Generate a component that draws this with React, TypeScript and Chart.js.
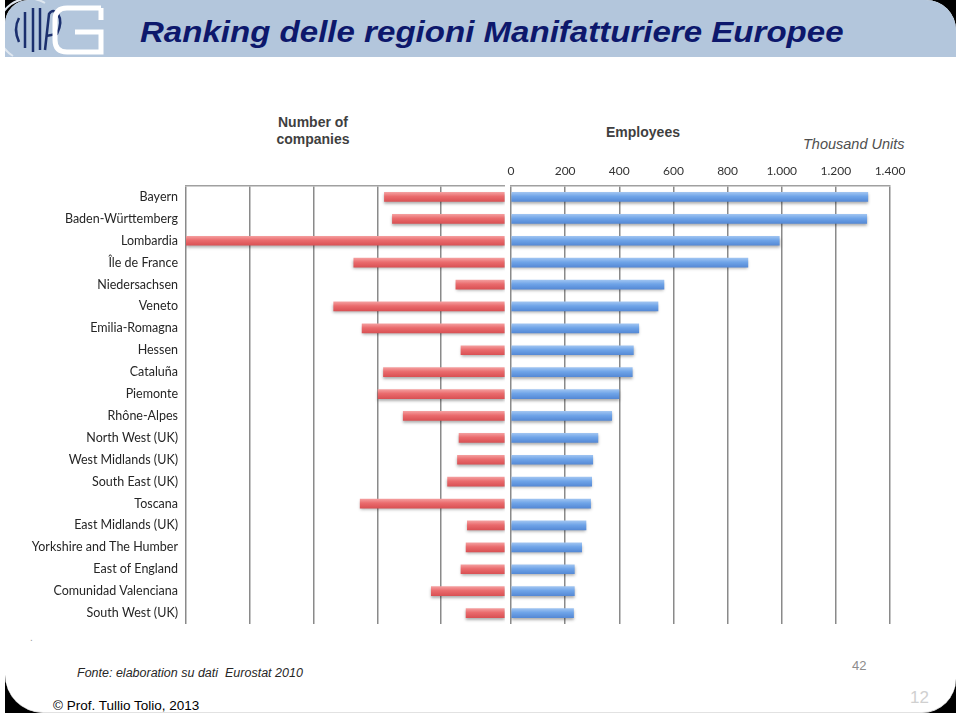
import React, { useEffect, useRef } from "react";
import { Chart, registerables } from "chart.js";

Chart.register(...registerables);

const regions = [
  "Bayern",
  "Baden-Württemberg",
  "Lombardia",
  "Île de France",
  "Niedersachsen",
  "Veneto",
  "Emilia-Romagna",
  "Hessen",
  "Cataluña",
  "Piemonte",
  "Rhône-Alpes",
  "North West (UK)",
  "West Midlands (UK)",
  "South East (UK)",
  "Toscana",
  "East Midlands (UK)",
  "Yorkshire and The Humber",
  "East of England",
  "Comunidad Valenciana",
  "South West (UK)",
];

const companies = [
  37800, 35300, 100000, 47400, 15400, 53700, 44800, 13800, 38100, 39800,
  31900, 14400, 14900, 18000, 45400, 11800, 12200, 13800, 23100, 12200,
];

const employees = [
  1318, 1314, 991, 875, 565, 543, 472, 452, 448, 399, 372, 321, 302, 298, 294,
  277, 261, 234, 234, 231,
];

const companiesMax = 100000;
const companiesStep = 20000;
const employeesMax = 1400;
const employeesStep = 200;

const LABEL_FONT = "Lato, 'Open Sans', sans-serif";

const shadowPlugin = {
  id: "barShadow",
  beforeDatasetsDraw(chart: any) {
    const ctx = chart.ctx;
    ctx.save();
    ctx.shadowColor = "rgba(0,0,0,0.32)";
    ctx.shadowBlur = 3;
    ctx.shadowOffsetX = 0;
    ctx.shadowOffsetY = 2;
  },
  afterDatasetsDraw(chart: any) {
    chart.ctx.restore();
  },
};

function barGradient(stops: string[]) {
  return (context: any) => {
    const chart = context.chart;
    if (!chart.chartArea || context.type !== "data") return stops[1];
    const yScale = chart.scales.y;
    if (!yScale) return stops[1];
    const yc = yScale.getPixelForValue(context.dataIndex);
    const g = chart.ctx.createLinearGradient(0, yc - 5, 0, yc + 5);
    g.addColorStop(0, stops[0]);
    g.addColorStop(0.45, stops[1]);
    g.addColorStop(1, stops[2]);
    return g;
  };
}

const gridGray = "#8a8a8a";

function formatThousands(v: number) {
  return String(v).replace(/\B(?=(\d{3})+(?!\d))/g, ".");
}

function noPad(s: any) {
  s.paddingLeft = 0;
  s.paddingRight = 0;
  s.paddingTop = 0;
  s.paddingBottom = 0;
}

function LeftChart() {
  const ref = useRef<HTMLCanvasElement>(null);
  useEffect(() => {
    if (!ref.current) return;
    const chart = new Chart(ref.current, {
      type: "bar",
      data: {
        labels: regions,
        datasets: [
          {
            label: "Number of companies",
            data: companies,
            backgroundColor: barGradient(["#f5a3a3", "#ea6b6d", "#d84f52"]),
            borderWidth: 0,
            barThickness: 9,
          },
        ],
      },
      plugins: [shadowPlugin],
      options: {
        indexAxis: "y",
        responsive: false,
        animation: false,
        layout: { padding: 0 },
        plugins: { legend: { display: false }, tooltip: { enabled: false } },
        scales: {
          x: {
            position: "top",
            reverse: true,
            min: 0,
            max: companiesMax,
            ticks: { display: false, stepSize: companiesStep },
            grid: {
              drawTicks: false,
              lineWidth: 1.5,
              color: (c: any) =>
                c.tick && c.tick.value === 0 ? "rgba(0,0,0,0)" : gridGray,
            },
            border: { display: true, color: "#a0a0a0", width: 1.5 },
            afterFit: (s: any) => {
              s.height = 26;
              noPad(s);
            },
          },
          y: {
            position: "left",
            ticks: {
              padding: 8,
              color: "#262626",
              font: { family: LABEL_FONT, size: 12.5 },
              autoSkip: false,
            },
            grid: { display: false, drawTicks: false },
            border: { display: false },
            afterFit: (s: any) => {
              s.width = 186;
              noPad(s);
            },
          },
        },
      },
    });
    return () => chart.destroy();
  }, []);
  return (
    <canvas
      ref={ref}
      width={505}
      height={464}
      style={{ position: "absolute", left: 0, top: 160, width: 505, height: 464 }}
    />
  );
}

function RightChart() {
  const ref = useRef<HTMLCanvasElement>(null);
  useEffect(() => {
    if (!ref.current) return;
    const chart = new Chart(ref.current, {
      type: "bar",
      data: {
        labels: regions,
        datasets: [
          {
            label: "Employees",
            data: employees,
            backgroundColor: barGradient(["#a4c7f2", "#6fa4e8", "#5387d4"]),
            borderWidth: 0,
            barThickness: 9,
          },
        ],
      },
      plugins: [shadowPlugin],
      options: {
        indexAxis: "y",
        responsive: false,
        animation: false,
        layout: { padding: { left: 0, right: 35, top: 0, bottom: 0 } },
        plugins: { legend: { display: false }, tooltip: { enabled: false } },
        scales: {
          x: {
            position: "top",
            min: 0,
            max: employeesMax,
            ticks: {
              stepSize: employeesStep,
              padding: 8,
              color: "#333333",
              font: { family: LABEL_FONT, size: 12 },
              maxRotation: 0,
              callback: (v: any) => formatThousands(Number(v)),
            },
            grid: { drawTicks: false, lineWidth: 1.5, color: gridGray },
            border: { display: true, color: "#a0a0a0", width: 1.5 },
            afterFit: (s: any) => {
              s.height = 26;
              noPad(s);
            },
          },
          y: {
            position: "left",
            ticks: { display: false },
            grid: { display: false, drawTicks: false },
            border: { display: false },
            afterFit: (s: any) => {
              s.width = 6;
              noPad(s);
            },
          },
        },
      },
    });
    return () => chart.destroy();
  }, []);
  return (
    <canvas
      ref={ref}
      width={420}
      height={464}
      style={{ position: "absolute", left: 505, top: 160, width: 420, height: 464 }}
    />
  );
}

function Logo() {
  return (
    <svg
      width={110}
      height={57}
      style={{ position: "absolute", left: 5, top: 0 }}
      viewBox="0 0 110 57"
    >
      <path d="M8 56 A30 30 0 0 1 40 3" stroke="#dfe7f0" strokeWidth={2} fill="none" />
      <path d="M14 18 Q8 29 14 42" stroke="#1b2f6e" strokeWidth={2.5} fill="none" />
      <line x1={20} y1={12} x2={20} y2={48} stroke="#1b2f6e" strokeWidth={2.5} />
      <line x1={28} y1={8} x2={28} y2={52} stroke="#1b2f6e" strokeWidth={2.5} />
      <line x1={35} y1={8} x2={35} y2={50} stroke="#1b2f6e" strokeWidth={2.5} />
      <path d="M40 50 L44 14 Q48 8 53 14 Q58 22 52 34 L41 36" stroke="#1b2f6e" strokeWidth={2.5} fill="none" />
      <path d="M96 8 H62 Q50 8 50 20 V40 Q50 52 62 52 H96 V32 H70" stroke="#ffffff" strokeWidth={5} fill="none" />
      <path d="M96 8 V20" stroke="#ffffff" strokeWidth={5} fill="none" />
    </svg>
  );
}

export default function App() {
  return (
    <div
      style={{
        position: "fixed",
        left: 0,
        top: 0,
        width: 960,
        height: 716,
        background: "#ffffff",
        overflow: "hidden",
        fontFamily: "'Liberation Sans', Arial, sans-serif",
      }}
    >
      {/* black corners */}
      <div style={{ position: "absolute", left: 5, top: 0, width: 30, height: 30, background: "#000" }} />
      <div style={{ position: "absolute", left: 925, top: 0, width: 31, height: 34, background: "#000" }} />
      <div style={{ position: "absolute", left: 5, top: 675, width: 40, height: 38, background: "#000" }} />
      <div style={{ position: "absolute", left: 915, top: 675, width: 41, height: 38, background: "#000" }} />
      {/* slide body */}
      <div
        style={{
          position: "absolute",
          left: 5,
          top: 0,
          width: 951,
          height: 713,
          background: "#ffffff",
          borderRadius: "24px 30px 34px 38px",
          borderBottom: "1px solid #e2e2e2",
          boxSizing: "border-box",
        }}
      />
      {/* header bar */}
      <div
        style={{
          position: "absolute",
          left: 5,
          top: 0,
          width: 951,
          height: 57,
          background: "#b3c6dc",
          borderRadius: "24px 30px 0 0",
        }}
      />
      <Logo />
      <div
        style={{
          position: "absolute",
          left: 140,
          top: 18,
          fontSize: 29,
          lineHeight: "29px",
          fontWeight: "bold",
          fontStyle: "italic",
          color: "#0d186c",
          whiteSpace: "nowrap",
          transform: "scaleX(1.14)",
          transformOrigin: "left top",
        }}
      >
        Ranking delle regioni Manifatturiere Europee
      </div>

      {/* chart headings */}
      <div
        style={{
          position: "absolute",
          left: 253,
          top: 114,
          width: 120,
          textAlign: "center",
          fontSize: 14,
          lineHeight: "17px",
          fontWeight: "bold",
          color: "#3f3f3f",
        }}
      >
        Number of
        <br />
        companies
      </div>
      <div
        style={{
          position: "absolute",
          left: 583,
          top: 124,
          width: 120,
          textAlign: "center",
          fontSize: 14,
          lineHeight: "17px",
          fontWeight: "bold",
          color: "#3f3f3f",
        }}
      >
        Employees
      </div>
      <div
        style={{
          position: "absolute",
          left: 803,
          top: 136,
          fontSize: 14.5,
          lineHeight: "17px",
          fontStyle: "italic",
          color: "#4f4f4f",
          whiteSpace: "nowrap",
        }}
      >
        Thousand Units
      </div>

      <LeftChart />
      <RightChart />

      {/* footer */}
      <div
        style={{
          position: "absolute",
          left: 30,
          top: 632,
          fontSize: 10,
          color: "#9a9a9a",
        }}
      >
        .
      </div>
      <div
        style={{
          position: "absolute",
          left: 77,
          top: 666,
          fontSize: 12.5,
          lineHeight: "15px",
          fontStyle: "italic",
          color: "#262626",
          whiteSpace: "pre",
        }}
      >
        {"Fonte: elaboration su dati  Eurostat 2010"}
      </div>
      <div
        style={{
          position: "absolute",
          left: 852,
          top: 658,
          fontSize: 13,
          lineHeight: "15px",
          color: "#8c8c8c",
        }}
      >
        42
      </div>
      <div
        style={{
          position: "absolute",
          left: 53,
          top: 698,
          fontSize: 13.5,
          lineHeight: "16px",
          color: "#000000",
          whiteSpace: "nowrap",
        }}
      >
        © Prof. Tullio Tolio, 2013
      </div>
      <div
        style={{
          position: "absolute",
          left: 910,
          top: 688,
          fontSize: 17,
          lineHeight: "19px",
          color: "#d0d0d0",
        }}
      >
        12
      </div>
    </div>
  );
}
